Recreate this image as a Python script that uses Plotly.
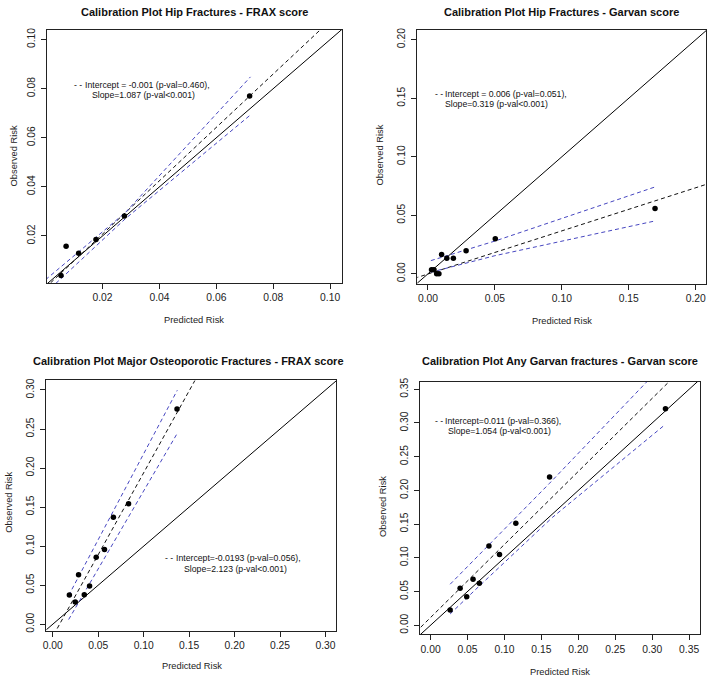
import plotly.graph_objects as go

W, H = 709, 680

# ---------------- data ----------------
# Panel 1: Hip Fractures - FRAX score
p1_pred = [0.0054, 0.0072, 0.0116, 0.0177, 0.0277, 0.0717]
p1_obs = [0.0039, 0.0158, 0.0130, 0.0186, 0.0281, 0.0770]
p1_fit_x = [0.0, 0.110]
p1_fit_y = [-0.001, 0.1186]
p1_ci_x = [0.0, 0.028, 0.072]
p1_ci_up = [0.0022, 0.0295, 0.0848]
p1_ci_lo = [-0.0032, 0.0270, 0.0693]

# Panel 2: Hip Fractures - Garvan score
p2_pred = [0.0027, 0.0045, 0.0065, 0.0082, 0.0102, 0.0141, 0.0190, 0.0285, 0.0503, 0.1696]
p2_obs = [0.0034, 0.0034, 0.0000, 0.0000, 0.0166, 0.0133, 0.0133, 0.0198, 0.0299, 0.0558]
p2_fit_x = [-0.020, 0.220]
p2_fit_y = [-0.0075, 0.0809]
p2_ci_x = [0.0022, 0.050, 0.1693]
p2_ci_up = [0.0113, 0.0280, 0.0741]
p2_ci_lo = [0.0014, 0.0155, 0.0451]

# Panel 3: Major Osteoporotic Fractures - FRAX score
p3_pred = [0.0183, 0.0248, 0.0284, 0.0347, 0.0405, 0.0478, 0.0569, 0.0667, 0.0834, 0.1367]
p3_obs = [0.0373, 0.0284, 0.0634, 0.0377, 0.0491, 0.0858, 0.0956, 0.1369, 0.1543, 0.2756]
p3_fit_x = [-0.010, 0.160]
p3_fit_y = [-0.0368, 0.3198]
p3_ci_x = [0.0175, 0.137]
p3_ci_up = [0.0368, 0.2997]
p3_ci_lo = [0.0060, 0.2446]

# Panel 4: Any Garvan fractures - Garvan score
p4_pred = [0.0265, 0.0400, 0.0489, 0.0575, 0.0660, 0.0790, 0.0933, 0.1154, 0.1611, 0.3180]
p4_obs = [0.0226, 0.0549, 0.0421, 0.0681, 0.0622, 0.1174, 0.1048, 0.1512, 0.2198, 0.3210]
p4_fit_x = [-0.020, 0.340]
p4_fit_y = [-0.0102, 0.3799]
p4_ci_up_x = [0.0265, 0.161, 0.318]
p4_ci_up = [0.0608, 0.2105, 0.3900]
p4_ci_lo_x = [0.0265, 0.060, 0.165, 0.3164]
p4_ci_lo = [0.0167, 0.0520, 0.1600, 0.2966]

identity = [-0.05, 0.5]

titles = [
    "Calibration Plot Hip Fractures - FRAX score",
    "Calibration Plot Hip Fractures - Garvan score",
    "Calibration Plot Major Osteoporotic Fractures - FRAX score",
    "Calibration Plot Any Garvan fractures - Garvan score",
]
legend_line1 = [
    "Intercept = -0.001 (p-val=0.460),",
    "Intercept = 0.006 (p-val=0.051),",
    "Intercept=-0.0193 (p-val=0.056),",
    "Intercept=0.011 (p-val=0.366),",
]
legend_line2 = [
    "Slope=1.087 (p-val<0.001)",
    "Slope=0.319 (p-val<0.001)",
    "Slope=2.123 (p-val<0.001)",
    "Slope=1.054 (p-val<0.001)",
]
p1_ticks = [0.02, 0.04, 0.06, 0.08, 0.10]
p2_ticks = [0.00, 0.05, 0.10, 0.15, 0.20]
p3_ticks = [0.00, 0.05, 0.10, 0.15, 0.20, 0.25, 0.30]
p4_ticks = [0.00, 0.05, 0.10, 0.15, 0.20, 0.25, 0.30, 0.35]

# ---------------- layout helpers ----------------
FONT = "Liberation Sans, Arial, sans-serif"
BLUE = "#4646c0"

# plot boxes in window pixels: (left, right, top, bottom)
boxes = [
    (43.0, 340.0, 25.0, 281.0),
    (415.7, 706.3, 25.0, 281.7),
    (42.7, 334.3, 379.3, 632.3),
    (418.3, 699.7, 381.0, 636.0),
]
xranges = [[0.0004, 0.1042], [-0.0079, 0.2079], [-0.0069, 0.3120], [-0.0144, 0.3644]]
yranges = [[0.0008, 0.1040], [-0.0085, 0.2085], [-0.0084, 0.3123], [-0.0137, 0.3607]]
ticks = [p1_ticks, p2_ticks, p3_ticks, p4_ticks]


def px(x):
    return x / W


def py(y):
    return 1 - y / H


fig = go.Figure()

panels = [
    (p1_pred, p1_obs, p1_fit_x, p1_fit_y, [(p1_ci_x, p1_ci_up), (p1_ci_x, p1_ci_lo)]),
    (p2_pred, p2_obs, p2_fit_x, p2_fit_y, [(p2_ci_x, p2_ci_up), (p2_ci_x, p2_ci_lo)]),
    (p3_pred, p3_obs, p3_fit_x, p3_fit_y, [(p3_ci_x, p3_ci_up), (p3_ci_x, p3_ci_lo)]),
    (p4_pred, p4_obs, p4_fit_x, p4_fit_y, [(p4_ci_up_x, p4_ci_up), (p4_ci_lo_x, p4_ci_lo)]),
]

layout = {}
for i, (pred, obs, fx, fy, cis) in enumerate(panels):
    n = "" if i == 0 else str(i + 1)
    xa, ya = "x" + n, "y" + n
    # identity line
    fig.add_trace(go.Scatter(x=identity, y=identity, mode="lines",
                             line=dict(color="black", width=1), xaxis=xa, yaxis=ya,
                             showlegend=False, hoverinfo="skip"))
    # fitted calibration line
    fig.add_trace(go.Scatter(x=fx, y=fy, mode="lines",
                             line=dict(color="#111111", width=1, dash="4px,3px"),
                             xaxis=xa, yaxis=ya, showlegend=False, hoverinfo="skip"))
    # confidence band lines
    for cx, cy in cis:
        fig.add_trace(go.Scatter(x=cx, y=cy, mode="lines",
                                 line=dict(color=BLUE, width=1, dash="4px,3px"),
                                 xaxis=xa, yaxis=ya, showlegend=False, hoverinfo="skip"))
    # points
    fig.add_trace(go.Scatter(x=pred, y=obs, mode="markers",
                             marker=dict(color="black", size=5.5),
                             xaxis=xa, yaxis=ya, showlegend=False))

    l, r, t, b = boxes[i]
    common = dict(showline=True, mirror=True, linecolor="#222", linewidth=1,
                  ticks="outside", ticklen=5, tickcolor="#222", tickwidth=1,
                  showgrid=False, zeroline=False, tickvals=ticks[i], tickformat=".2f",
                  tickfont=dict(family=FONT, size=10.3, color="#222"))
    layout["xaxis" + n] = dict(domain=[px(l), px(r)], range=xranges[i],
                               anchor=ya, **common)
    layout["yaxis" + n] = dict(domain=[py(b), py(t)], range=yranges[i],
                               anchor=xa, tickangle=-90, ticklabelstandoff=2, **common)

fig.update_layout(**layout)

# ---------------- text ----------------
ann = []
# (x centre, y, y anchor)
title_pos = [(191.5, 0.0, "top"), (561, 0.0, "top"), (186, 360, "middle"), (559, 360, "middle")]
xtitle_pos = [(191, 318), (561.5, 319), (188.8, 668.3), (559, 674)]
ytitle_pos = [(10, 152), (378.3, 152), (5.5, 502.5), (381.7, 506.7)]
# (dash x, line1 x, line1 y, line2 x, line2 y)
legend_pos = [
    (68.3, 79.0, 81.0, 86.7, 91.0),
    (431.3, 441.3, 90.0, 441.0, 100.0),
    (160.0, 170.7, 558.3, 179.0, 569.7),
    (431.3, 441.3, 420.0, 444.7, 430.3),
]

for i in range(4):
    tx, ty, tanc = title_pos[i]
    ann.append(dict(x=px(tx), y=py(ty), xref="paper", yref="paper", text="<b>" + titles[i] + "</b>",
                    showarrow=False, xanchor="center", yanchor=tanc, borderpad=0,
                    font=dict(family=FONT, size=11, color="#111")))
    ax, ay = xtitle_pos[i]
    ann.append(dict(x=px(ax), y=py(ay), xref="paper", yref="paper", text="Predicted Risk",
                    showarrow=False, xanchor="center", yanchor="middle",
                    font=dict(family=FONT, size=9.3, color="#222")))
    bx, by = ytitle_pos[i]
    ann.append(dict(x=px(bx), y=py(by), xref="paper", yref="paper", text="Observed Risk",
                    showarrow=False, xanchor="center", yanchor="middle", textangle=-90,
                    font=dict(family=FONT, size=9.3, color="#222")))
    dx, l1x, l1y, l2x, l2y = legend_pos[i]
    ann.append(dict(x=px(dx), y=py(l1y), xref="paper", yref="paper", text="- -",
                    showarrow=False, xanchor="left", yanchor="middle",
                    font=dict(family=FONT, size=8.7, color="#111")))
    ann.append(dict(x=px(l1x), y=py(l1y), xref="paper", yref="paper", text=legend_line1[i],
                    showarrow=False, xanchor="left", yanchor="middle",
                    font=dict(family=FONT, size=8.7, color="#111")))
    ann.append(dict(x=px(l2x), y=py(l2y), xref="paper", yref="paper", text=legend_line2[i],
                    showarrow=False, xanchor="left", yanchor="middle",
                    font=dict(family=FONT, size=8.7, color="#111")))

fig.update_layout(
    width=W, height=H,
    margin=dict(l=0, r=0, t=0, b=0),
    paper_bgcolor="white", plot_bgcolor="white",
    annotations=ann,
    showlegend=False,
)

# remove the browser's default 8px body margin so the figure sits at the window corner
fig.write_html("out.html", config={"displayModeBar": False},
               post_script="document.body.style.margin='0';document.body.style.overflow='hidden';")
